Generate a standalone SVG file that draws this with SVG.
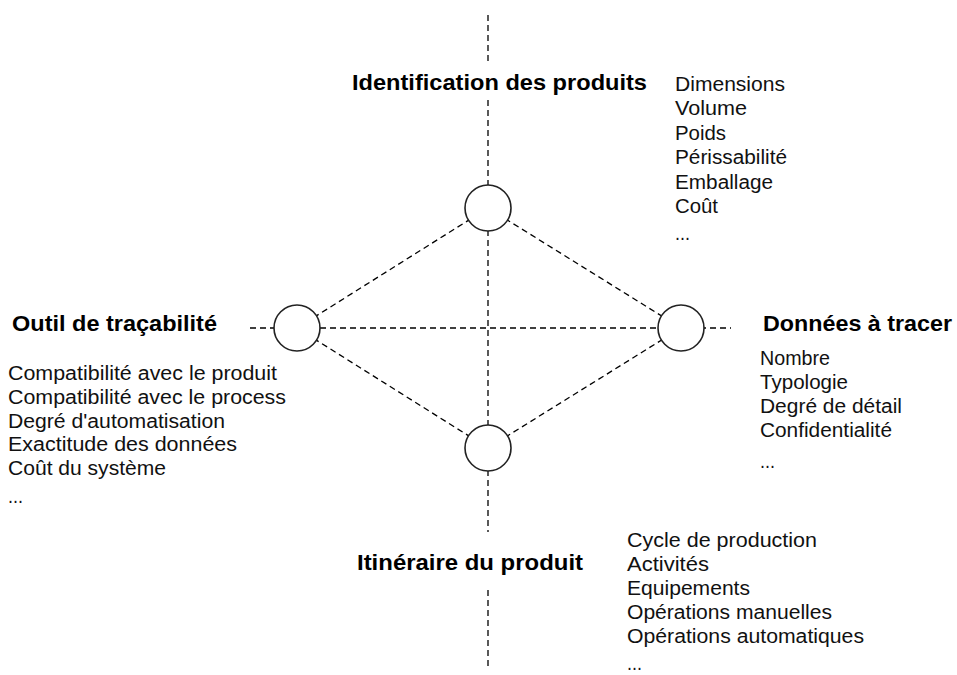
<svg xmlns="http://www.w3.org/2000/svg" width="957" height="675" viewBox="0 0 957 675">
<style>
.bg{fill:#ffffff}
.dash{stroke:#000;stroke-width:1.3;stroke-dasharray:6 4;fill:none}
.node{fill:#fff;stroke:#222;stroke-width:1.6}
.title{font-family:"Liberation Sans",Arial,sans-serif;font-weight:bold;font-size:22.5px;fill:#000}
.item{font-family:"Liberation Sans",Arial,sans-serif;font-size:19.5px;fill:#111}
</style>
<rect class="bg" x="0" y="0" width="957" height="675"/>
<g id="connectors">
<line class="dash" x1="488" y1="15" x2="488" y2="63"/>
<line class="dash" x1="488" y1="100" x2="488" y2="532"/>
<line class="dash" x1="488" y1="590" x2="488" y2="666"/>
<line class="dash" x1="250" y1="328" x2="731" y2="328"/>
<line class="dash" x1="488" y1="208" x2="297" y2="328"/>
<line class="dash" x1="488" y1="208" x2="681" y2="328"/>
<line class="dash" x1="488" y1="448" x2="297" y2="328"/>
<line class="dash" x1="488" y1="448" x2="681" y2="328"/>
</g>
<g id="node-identification">
<circle class="node" cx="488" cy="208" r="23"/>
<text class="title" x="352" y="90" textLength="295" lengthAdjust="spacingAndGlyphs">Identification des produits</text>
<text class="item" x="675" y="91" textLength="110" lengthAdjust="spacingAndGlyphs">Dimensions</text>
<text class="item" x="675" y="115" textLength="72" lengthAdjust="spacingAndGlyphs">Volume</text>
<text class="item" x="675" y="140" textLength="51" lengthAdjust="spacingAndGlyphs">Poids</text>
<text class="item" x="675" y="164" textLength="112" lengthAdjust="spacingAndGlyphs">Périssabilité</text>
<text class="item" x="675" y="189" textLength="98" lengthAdjust="spacingAndGlyphs">Emballage</text>
<text class="item" x="675" y="213" textLength="43" lengthAdjust="spacingAndGlyphs">Coût</text>
<text class="item" x="675" y="240" textLength="15" lengthAdjust="spacingAndGlyphs">...</text>
</g>
<g id="node-outil">
<circle class="node" cx="297" cy="328" r="23"/>
<text class="title" x="12" y="331" textLength="205" lengthAdjust="spacingAndGlyphs">Outil de traçabilité</text>
<text class="item" x="8" y="380" textLength="269" lengthAdjust="spacingAndGlyphs">Compatibilité avec le produit</text>
<text class="item" x="8" y="404" textLength="278" lengthAdjust="spacingAndGlyphs">Compatibilité avec le process</text>
<text class="item" x="8" y="428" textLength="217" lengthAdjust="spacingAndGlyphs">Degré d'automatisation</text>
<text class="item" x="8" y="451" textLength="229" lengthAdjust="spacingAndGlyphs">Exactitude des données</text>
<text class="item" x="8" y="475" textLength="158" lengthAdjust="spacingAndGlyphs">Coût du système</text>
<text class="item" x="8" y="503" textLength="15" lengthAdjust="spacingAndGlyphs">...</text>
</g>
<g id="node-donnees">
<circle class="node" cx="681" cy="328" r="23"/>
<text class="title" x="763" y="331" textLength="189" lengthAdjust="spacingAndGlyphs">Données à tracer</text>
<text class="item" x="760" y="365" textLength="70" lengthAdjust="spacingAndGlyphs">Nombre</text>
<text class="item" x="760" y="389" textLength="88" lengthAdjust="spacingAndGlyphs">Typologie</text>
<text class="item" x="760" y="413" textLength="142" lengthAdjust="spacingAndGlyphs">Degré de détail</text>
<text class="item" x="760" y="437" textLength="132" lengthAdjust="spacingAndGlyphs">Confidentialité</text>
<text class="item" x="760" y="468" textLength="15" lengthAdjust="spacingAndGlyphs">...</text>
</g>
<g id="node-itineraire">
<circle class="node" cx="488" cy="448" r="23"/>
<text class="title" x="357" y="570" textLength="226" lengthAdjust="spacingAndGlyphs">Itinéraire du produit</text>
<text class="item" x="627" y="547" textLength="190" lengthAdjust="spacingAndGlyphs">Cycle de production</text>
<text class="item" x="627" y="571" textLength="82" lengthAdjust="spacingAndGlyphs">Activités</text>
<text class="item" x="627" y="595" textLength="123" lengthAdjust="spacingAndGlyphs">Equipements</text>
<text class="item" x="627" y="619" textLength="205" lengthAdjust="spacingAndGlyphs">Opérations manuelles</text>
<text class="item" x="627" y="643" textLength="237" lengthAdjust="spacingAndGlyphs">Opérations automatiques</text>
<text class="item" x="627" y="670" textLength="15" lengthAdjust="spacingAndGlyphs">...</text>
</g>
</svg>
